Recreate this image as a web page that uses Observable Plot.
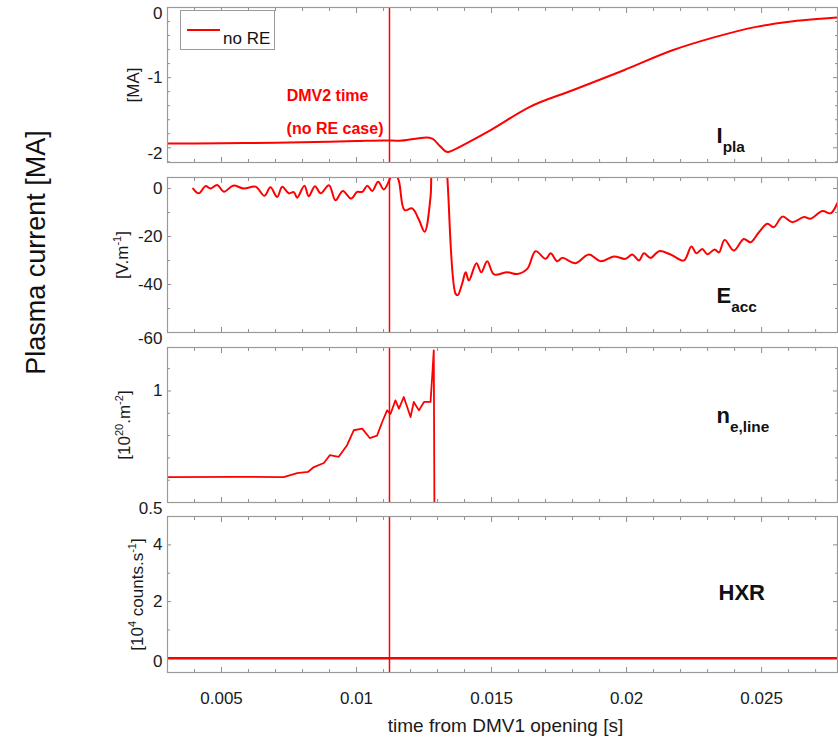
<!DOCTYPE html>
<html>
<head>
<meta charset="utf-8">
<script src="https://cdn.jsdelivr.net/npm/d3@7"></script>
<script src="https://cdn.jsdelivr.net/npm/@observablehq/plot@0.6"></script>
<style>
  html, body { margin: 0; padding: 0; background: #fff; }
  #chart { position: relative; width: 838px; height: 737px; overflow: hidden; font-family: 'Liberation Sans', Arial, Helvetica, sans-serif; }
  #chart svg { position: absolute; left: 0; }
  .legend { position: absolute; left: 180px; top: 10px; width: 95px; height: 40px; border: 1px solid #9a9a9a; background: #fff; box-sizing: border-box; }
  .legend .swatch { position: absolute; left: 6px; top: 18px; width: 33px; height: 2px; background: #ff0000; }
  .legend .lab { position: absolute; left: 42px; top: 19px; font-size: 17px; line-height: 17px; color: #111; white-space: nowrap; }
</style>
</head>
<body>
<div id="chart"></div>
<script>
// ---------------- data ----------------
const xTickValues = [0.005, 0.01, 0.015, 0.02, 0.025];
const xMinorTicks = [0.004, 0.006, 0.007, 0.008, 0.009, 0.011, 0.012, 0.013, 0.014, 0.016, 0.017, 0.018, 0.019, 0.021, 0.022, 0.023, 0.024, 0.026, 0.027];
const DMV2_TIME = 0.01122;
const annotations = ["DMV2 time", "(no RE case)"];
const legendLabel = "no RE";
const xTitle = "time from DMV1 opening [s]";
const bigTitle = "Plasma current [MA]";

// Plasma current
const iplaTime = [0.003, 0.005, 0.007, 0.009, 0.010, 0.011, 0.0116, 0.0122, 0.0126, 0.0128, 0.0131, 0.01337, 0.0136, 0.0140, 0.0150, 0.0164, 0.0180, 0.0199, 0.0217, 0.0232, 0.0248, 0.0261, 0.0272, 0.0279];
const iplaValue = [-1.94, -1.935, -1.93, -1.915, -1.905, -1.895, -1.90, -1.87, -1.855, -1.87, -1.98, -2.06, -2.03, -1.95, -1.74, -1.42, -1.18, -0.894, -0.61, -0.43, -0.276, -0.20, -0.16, -0.14];
const iplaTicks = [0, -1, -2];
const iplaMinor = [-0.2, -0.4, -0.6, -0.8, -1.2, -1.4, -1.6, -1.8, -2.2];

// Accelerating electric field
const eaccTime = [0.00395, 0.00416, 0.00441, 0.00459, 0.00484, 0.00509, 0.00543, 0.00583, 0.00626, 0.00659, 0.00681, 0.00706, 0.00725, 0.00749, 0.00768, 0.0078, 0.00807, 0.00823, 0.00846, 0.00867, 0.00898, 0.00922, 0.00949, 0.0098, 0.01002, 0.01021, 0.0104, 0.01058, 0.0108, 0.01101, 0.01126, 0.01138, 0.01157, 0.01178, 0.01206, 0.01231, 0.01252, 0.01274, 0.0129, 0.0132, 0.01336, 0.01367, 0.01375, 0.01391, 0.01404, 0.01416, 0.01444, 0.01462, 0.01484, 0.01509, 0.01558, 0.01595, 0.01632, 0.01663, 0.017, 0.01719, 0.01743, 0.01762, 0.01811, 0.0186, 0.01904, 0.01953, 0.01996, 0.02021, 0.02046, 0.02064, 0.02089, 0.0212, 0.02163, 0.02212, 0.0224, 0.02259, 0.0228, 0.02299, 0.02326, 0.02342, 0.02363, 0.02397, 0.02434, 0.02459, 0.0249, 0.02521, 0.02545, 0.02577, 0.02614, 0.02657, 0.02681, 0.02725, 0.02756, 0.0278];
const eaccValue = [0, -2, 1, 0, 1.5, -1.3, 1.2, 0, 0.8, -3, 0.5, -3.5, 0.7, -2, -1.5, -3.8, 1.2, -3.2, 1, -2, 1.4, -4.9, -1, -4.2, -1.4, -1.4, 1.2, -1, 2.8, -0.4, 4.7, 8, 3, -9, -8.3, -13, -18, -3.5, 30, 30, 5, -43.9, -44.4, -39.7, -34.9, -38.3, -31.1, -34.9, -30.3, -35.8, -34.9, -35.6, -33.5, -26.1, -29.3, -27, -30.3, -28.9, -31.1, -27.5, -30.3, -28.3, -29.3, -27.5, -30, -27, -28.9, -26.1, -27.5, -30, -24.2, -27, -25.2, -27.4, -25.4, -26.6, -21.4, -25.8, -21, -22.4, -18.2, -14.7, -16.1, -11.7, -14, -11.9, -12.6, -9.4, -10.3, -6.1];
const eaccTicks = [0, -20, -40, -60];
const eaccMinor = [-10, -30, -50];

// Line-integrated density
const neTime = [0.003, 0.0055, 0.0073, 0.0078, 0.0082, 0.00842, 0.00879, 0.00901, 0.00934, 0.00965, 0.0099, 0.01021, 0.01049, 0.01076, 0.01095, 0.01113, 0.01126, 0.01144, 0.01157, 0.01175, 0.012, 0.01212, 0.01231, 0.0125, 0.01274, 0.01281, 0.01286, 0.01289];
const neValue = [0.614, 0.615, 0.614, 0.632, 0.637, 0.659, 0.677, 0.712, 0.705, 0.757, 0.824, 0.831, 0.789, 0.80, 0.861, 0.913, 0.898, 0.958, 0.921, 0.973, 0.883, 0.951, 0.913, 0.951, 0.951, 1.08, 1.182, 0.3];
const neTicks = [0.5, 1];
const neMinor = [0.6, 0.7, 0.8, 0.9, 1.1];

// Hard X-rays
const hxrTime = [0.003, 0.0279];
const hxrValue = [0, 0];
const hxrTicks = [0, 2, 4];
const hxrMinor = [1, 3];

// ---------------- helpers ----------------
const RED = "#ff0000";
const GRAY = "#8f8f8f";
const INK = "#1a1a1a";
const FONT = "'Liberation Sans', Arial, Helvetica, sans-serif";
const W = 838, ML = 167, MR = 1;
const xDomain = [0.003, 0.02781];
const zip = (t, v) => t.map((d, i) => ({t: d, v: v[i]}));

function tickMarks(yMajor, yMinor) {
  const none = () => "";
  const ax = (ticks, anchor, s) => Plot.axisX({ticks, anchor, tickSize: s, dy: anchor === "bottom" ? -s : s, tickFormat: none, label: null, stroke: GRAY});
  const ay = (ticks, anchor, s) => Plot.axisY({ticks, anchor, tickSize: s, dx: anchor === "left" ? s : -s, tickFormat: none, label: null, stroke: GRAY});
  return [
    ax(xTickValues, "bottom", 5), ax(xMinorTicks, "bottom", 3),
    ax(xTickValues, "top", 5), ax(xMinorTicks, "top", 3),
    ay(yMajor, "left", 4), ay(yMinor, "left", 3),
    ay(yMajor, "right", 5), ay(yMinor, "right", 3)
  ];
}

// y tick labels; labels at the panel edges sit a little lower, as in the reference
function yLabelMarks(labels, shifted, amount) {
  const plain = labels.filter(d => !shifted.includes(d));
  const moved = labels.filter(d => shifted.includes(d));
  const opts = dy => ({y: d => d, text: d => String(d), frameAnchor: "left", dx: -5, dy, textAnchor: "end", lineAnchor: "middle", fontSize: 17, fill: INK});
  return [Plot.text(plain, opts(0)), Plot.text(moved, opts(amount))];
}

function panel(cfg) {
  const mt = 10, mb = cfg.mb ?? 10;
  const svg = Plot.plot({
    width: W, height: mt + cfg.h + mb,
    marginLeft: ML, marginRight: MR, marginTop: mt, marginBottom: mb,
    x: {domain: xDomain, axis: null},
    y: {domain: cfg.yDomain, axis: null},
    style: {background: "transparent", overflow: "visible", fontFamily: FONT, color: INK},
    marks: [
      ...tickMarks(cfg.yMajor, cfg.yMinor),
      ...yLabelMarks(cfg.yLabels, cfg.shifted, cfg.shiftAmount ?? 6),
      Plot.ruleX([DMV2_TIME], {x: d => d, stroke: RED, strokeWidth: 1.5}),
      Plot.text([cfg.unit], {frameAnchor: "left", dx: cfg.unitDx, rotate: -90, textAnchor: "middle", lineAnchor: "middle", fontSize: 17, fill: INK}),
      Plot.text([cfg.name], {frameAnchor: "top-left", dx: cfg.nameDx ?? 549, dy: cfg.nameDy, textAnchor: "start", lineAnchor: "bottom", fontSize: 22, fontWeight: "bold", fill: "#111"}),
      ...cfg.marks,
      Plot.frame({stroke: "#9a9a9a", strokeWidth: 1.2})
    ]
  });
  svg.style.top = (cfg.top - mt) + "px";
  return svg;
}

function richify(svg) {
  d3.select(svg).selectAll("text").each(function () {
    const t = this.textContent;
    if (!/[\^_]\{/.test(t)) return;
    const fs = parseFloat(getComputedStyle(this).fontSize) || 16;
    const el = d3.select(this);
    el.text(null);
    let cur = 0;
    for (const m of t.matchAll(/([\^_])\{([^}]*)\}|([^\^_]+)/g)) {
      if (m[3] !== undefined) {
        const ts = el.append("tspan").text(m[3]);
        if (cur !== 0) ts.attr("dy", -cur);
        cur = 0;
      } else {
        const sup = m[1] === "^";
        const shift = sup ? -0.42 * fs : 0.42 * fs;
        el.append("tspan").text(m[2]).attr("font-size", (sup ? 0.65 : 0.7) * fs).attr("dy", shift - cur);
        cur = shift;
      }
    }
  });
}

// ---------------- panels ----------------
const chart = document.getElementById("chart");

const p1 = panel({
  top: 7, h: 155, yDomain: [-2.21, 0], yMajor: iplaTicks, yMinor: iplaMinor, yLabels: iplaTicks, shifted: [0, -2],
  unit: "[MA]", unitDx: -33.5, name: "I_{pla}", nameDy: 135,
  marks: [
    Plot.line(zip(iplaTime, iplaValue), {x: "t", y: "v", stroke: RED, strokeWidth: 2, curve: "monotone-x", clip: true}),
    Plot.text([DMV2_TIME], {x: d => d, text: () => annotations[0], frameAnchor: "top", dy: 93, dx: -21, textAnchor: "end", lineAnchor: "bottom", fontSize: 16, fontWeight: "bold", fill: RED}),
    Plot.text([DMV2_TIME], {x: d => d, text: () => annotations[1], frameAnchor: "top", dy: 126, dx: -6, textAnchor: "end", lineAnchor: "bottom", fontSize: 16, fontWeight: "bold", fill: RED})
  ]
});

const p2 = panel({
  top: 177, h: 155, yDomain: [-60, 4.6], yMajor: eaccTicks, yMinor: eaccMinor, yLabels: eaccTicks, shifted: [-60],
  unit: "[V.m^{-1}]", unitDx: -45, name: "E_{acc}", nameDy: 125,
  marks: [
    Plot.line(zip(eaccTime, eaccValue), {x: "t", y: "v", stroke: RED, strokeWidth: 2, curve: "catmull-rom", clip: true}),
    Plot.text([bigTitle], {frameAnchor: "left", dx: -131, dy: -2.5, rotate: -90, textAnchor: "middle", lineAnchor: "middle", fontSize: 27, fill: "#111"})
  ]
});

const p3 = panel({
  top: 347, h: 155, yDomain: [0.5, 1.195], yMajor: neTicks, yMinor: neMinor, yLabels: neTicks, shifted: [0.5],
  unit: "[10^{20}.m^{-2}]", unitDx: -43, name: "n_{e,line}", nameDy: 75,
  marks: [
    Plot.line(zip(neTime, neValue), {x: "t", y: "v", stroke: RED, strokeWidth: 1.8, clip: true})
  ]
});

const p4 = panel({
  top: 516, h: 156, mb: 65, yDomain: [-0.5, 5], yMajor: hxrTicks, yMinor: hxrMinor, yLabels: hxrTicks, shifted: [0], shiftAmount: 3,
  unit: "[10^{4} counts.s^{-1}]", unitDx: -30, name: "HXR", nameDx: 551, nameDy: 83,
  marks: [
    Plot.line(zip(hxrTime, hxrValue), {x: "t", y: "v", stroke: RED, strokeWidth: 2.5, clip: true}),
    Plot.text(xTickValues, {x: d => d, text: d => String(+d.toFixed(4)), frameAnchor: "bottom", dy: 26, lineAnchor: "middle", textAnchor: "middle", fontSize: 17, fill: INK}),
    Plot.text([xTitle], {frameAnchor: "bottom", dy: 53, dx: 3, lineAnchor: "middle", textAnchor: "middle", fontSize: 19, fill: INK})
  ]
});

for (const s of [p1, p2, p3, p4]) { chart.appendChild(s); richify(s); }

// legend
const lg = document.createElement("div");
lg.className = "legend";
lg.innerHTML = '<div class="swatch"></div><div class="lab"></div>';
lg.querySelector(".lab").textContent = legendLabel;
chart.appendChild(lg);
</script>
</body>
</html>
